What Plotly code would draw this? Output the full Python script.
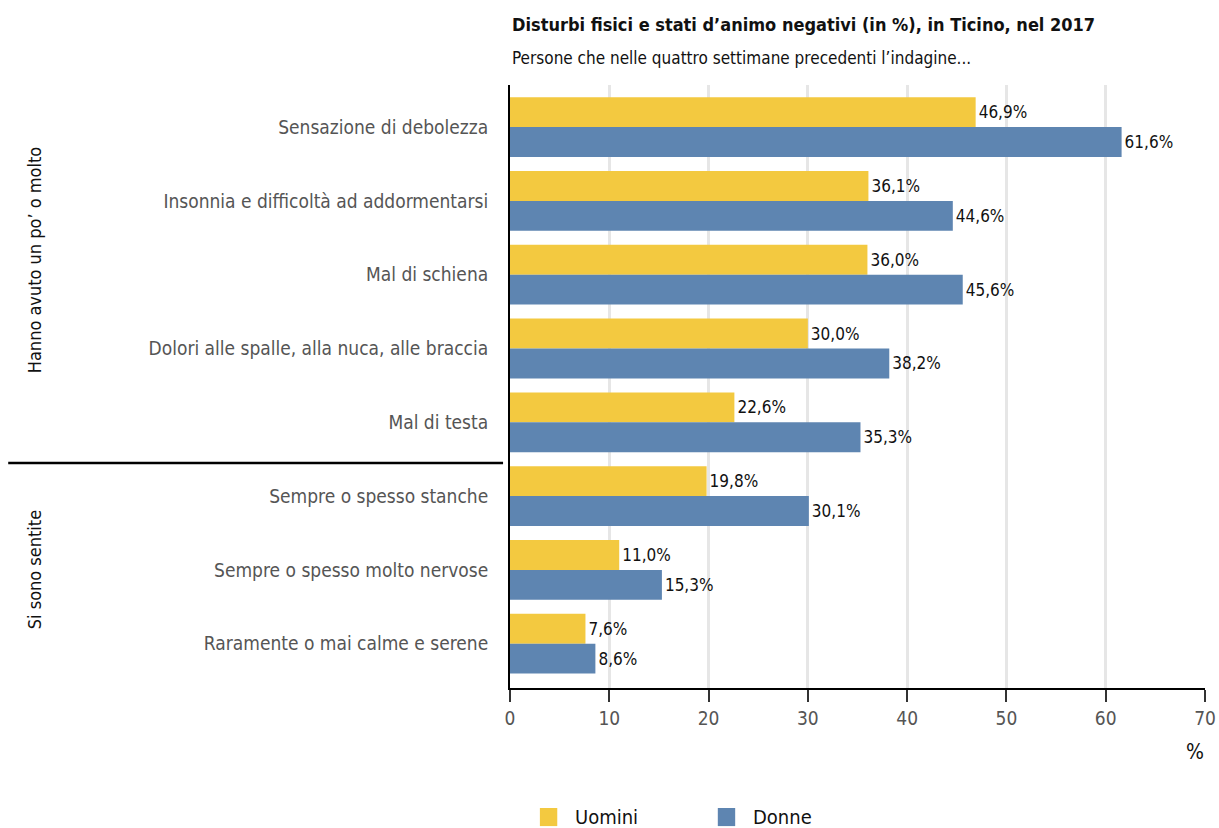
import plotly.graph_objects as go

categories = [
    "Sensazione di debolezza",
    "Insonnia e difficoltà ad addormentarsi",
    "Mal di schiena",
    "Dolori alle spalle, alla nuca, alle braccia",
    "Mal di testa",
    "Sempre o spesso stanche",
    "Sempre o spesso molto nervose",
    "Raramente o mai calme e serene",
]
uomini = [46.9, 36.1, 36.0, 30.0, 22.6, 19.8, 11.0, 7.6]
donne = [61.6, 44.6, 45.6, 38.2, 35.3, 30.1, 15.3, 8.6]
x_ticks = [0, 10, 20, 30, 40, 50, 60, 70]
series_names = ["Uomini", "Donne"]

FONT = "DejaVu Sans Condensed, Liberation Sans Narrow, sans-serif"
YELLOW = "#F3C940"
BLUE = "#5E85B1"
colors = [YELLOW, BLUE]

pos = list(range(len(categories)))


def fmt(v):
    return f"{v:.1f}%".replace(".", ",")


fig = go.Figure()
for name, vals, col in zip(series_names, [uomini, donne], colors):
    fig.add_trace(go.Bar(
        y=pos, x=vals, orientation="h", name=name,
        marker=dict(color=col, line=dict(width=0)),
        text=[fmt(v) for v in vals], textposition="outside",
        textfont=dict(family=FONT, size=17, color="#111"),
        cliponaxis=False, showlegend=False,
    ))

fig.update_layout(
    width=1219, height=828,
    margin=dict(l=510, r=14, t=85, b=140, autoexpand=False),
    barmode="group", bargap=0.19, bargroupgap=0,
    plot_bgcolor="white", paper_bgcolor="white",
    font=dict(family=FONT, size=18, color="#111"),
    showlegend=False,
    xaxis=dict(
        range=[0, 70], tickvals=x_ticks, ticktext=[str(t) for t in x_ticks],
        showgrid=True, gridcolor="#e6e6e6", gridwidth=3,
        showline=True, linecolor="black", linewidth=2,
        ticks="outside", ticklen=12, tickwidth=2, tickcolor="#333",
        tickfont=dict(family=FONT, size=19, color="#555"),
        zeroline=False,
    ),
    yaxis=dict(
        range=[7.6, -0.57], tickvals=pos, ticktext=categories,
        showgrid=False, zeroline=False,
        showline=True, linecolor="black", linewidth=2,
        ticks="", ticklabelstandoff=16,
        tickfont=dict(family=FONT, size=19, color="#555"),
    ),
)

# Title block
fig.add_annotation(
    text="<b>Disturbi fisici e stati d’animo negativi (in %), in Ticino, nel 2017</b>",
    xref="paper", yref="paper", x=0, y=1, yshift=61, xanchor="left", yanchor="middle",
    showarrow=False, font=dict(family=FONT, size=18, color="#111"),
)
fig.add_annotation(
    text="Persone che nelle quattro settimane precedenti l’indagine...",
    xref="paper", yref="paper", x=0, y=1, yshift=27, xanchor="left", yanchor="middle",
    showarrow=False, font=dict(family=FONT, size=17, color="#111"),
)
# Axis unit
fig.add_annotation(
    text="%", xref="paper", yref="paper", x=0.986, y=0, yshift=-64,
    xanchor="center", yanchor="middle", showarrow=False,
    font=dict(family=FONT, size=21, color="#111"),
)
# Group labels on the left
fig.add_annotation(
    text="Hanno avuto un po’ o molto", xref="paper", yref="y", x=-0.683, y=1.8,
    xanchor="center", yanchor="middle",
    textangle=-90, showarrow=False, font=dict(family=FONT, size=18, color="#111"),
)
fig.add_annotation(
    text="Si sono sentite", xref="paper", yref="y", x=-0.683, y=6.0,
    xanchor="center", yanchor="middle",
    textangle=-90, showarrow=False, font=dict(family=FONT, size=18, color="#111"),
)
fig.add_shape(
    type="line", xref="paper", yref="y", x0=-0.722, x1=-0.01, y0=4.55, y1=4.55,
    line=dict(color="black", width=2.5),
)

# Legend: colour squares with labels
legend_x = [0.043, 0.299]
for name, col, x0 in zip(series_names, colors, legend_x):
    fig.add_shape(
        type="rect", xref="paper", yref="paper", x0=x0, x1=x0 + 0.025,
        y0=-0.199, y1=-0.229, line=dict(width=0), fillcolor=col,
    )
    fig.add_annotation(
        text=name, xref="paper", yref="paper", x=x0 + 0.048, y=-0.214,
        xanchor="left", yanchor="middle", showarrow=False,
        font=dict(family=FONT, size=20, color="#111"),
    )

fig.write_html("out.html")
